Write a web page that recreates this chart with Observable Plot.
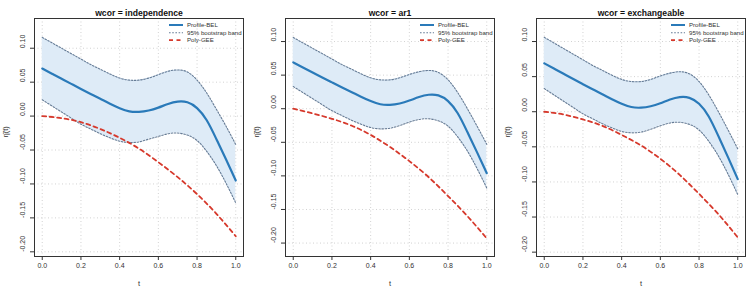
<!DOCTYPE html>
<html><head><meta charset="utf-8">
<script src="https://cdn.jsdelivr.net/npm/d3@7"></script>
<script src="https://cdn.jsdelivr.net/npm/@observablehq/plot@0.6"></script>
<style>
body{margin:0;background:#fff;font-family:"Liberation Sans",Arial,sans-serif;}
#wrap{display:flex;width:753px;height:289px;}
svg{display:block;}
</style></head><body><div id="wrap"></div>
<script>
const titles = ["wcor = independence", "wcor = ar1", "wcor = exchangeable"];
const t21 = [0,0.05,0.1,0.15,0.2,0.25,0.3,0.35,0.4,0.45,0.5,0.55,0.6,0.65,0.7,0.75,0.8,0.85,0.9,0.95,1.0];
const t11 = [0,0.1,0.2,0.3,0.4,0.5,0.6,0.7,0.8,0.9,1.0];
const xTicks = [0,0.2,0.4,0.6,0.8,1.0];
const yTicks = [-0.2,-0.15,-0.1,-0.05,0,0.05,0.1];

// Profile-BEL estimates
const bel1 = [0.0700,0.0625,0.0550,0.0475,0.0400,0.0327,0.0255,0.0182,0.0117,0.0070,0.0062,0.0082,0.0125,0.0178,0.0213,0.0203,0.0118,-0.0062,-0.0340,-0.0640,-0.0950];
const bel2 = [0.0690,0.0615,0.0540,0.0465,0.0392,0.0320,0.0250,0.0178,0.0114,0.0067,0.0058,0.0078,0.0121,0.0174,0.0208,0.0198,0.0113,-0.0068,-0.0348,-0.0650,-0.0960];
const bel3 = [0.0690,0.0615,0.0540,0.0465,0.0392,0.0320,0.0250,0.0178,0.0114,0.0067,0.0058,0.0078,0.0121,0.0174,0.0208,0.0198,0.0113,-0.0068,-0.0348,-0.0650,-0.0960];
// 95% bootstrap band
const upper1 = [0.116,0.108,0.100,0.092,0.084,0.076,0.069,0.062,0.056,0.053,0.053,0.056,0.061,0.066,0.068,0.065,0.053,0.034,0.010,-0.015,-0.042];
const lower1 = [0.024,0.015,0.006,-0.003,-0.012,-0.019,-0.026,-0.032,-0.037,-0.039,-0.038,-0.034,-0.030,-0.026,-0.025,-0.028,-0.036,-0.052,-0.073,-0.099,-0.128];
const upper2 = [0.106,0.098,0.090,0.082,0.074,0.066,0.059,0.052,0.046,0.043,0.043,0.046,0.051,0.055,0.057,0.054,0.043,0.024,0.000,-0.026,-0.053];
const lower2 = [0.033,0.024,0.015,0.006,-0.003,-0.010,-0.017,-0.023,-0.028,-0.030,-0.029,-0.025,-0.020,-0.016,-0.015,-0.018,-0.026,-0.042,-0.063,-0.089,-0.118];
const upper3 = [0.106,0.098,0.090,0.082,0.074,0.066,0.059,0.052,0.046,0.043,0.043,0.046,0.051,0.055,0.057,0.054,0.043,0.024,0.000,-0.026,-0.053];
const lower3 = [0.033,0.024,0.015,0.006,-0.003,-0.010,-0.017,-0.023,-0.028,-0.030,-0.029,-0.025,-0.020,-0.016,-0.015,-0.018,-0.026,-0.042,-0.063,-0.089,-0.118];
// Poly-GEE
const gee1 = [0,-0.003,-0.009,-0.019,-0.032,-0.048,-0.068,-0.090,-0.115,-0.144,-0.177];
const gee2 = [0,-0.007,-0.015,-0.025,-0.039,-0.057,-0.078,-0.102,-0.130,-0.160,-0.193];
const gee3 = [0,-0.004,-0.011,-0.020,-0.033,-0.048,-0.067,-0.090,-0.117,-0.146,-0.179];

const yDomains = [[-0.2069,0.1438],[-0.22,0.1343],[-0.2062,0.1328]];
const legendLabels = ["Profile-BEL","95% bootstrap band","Poly-GEE"];

const panels = [
  {bel:bel1, up:upper1, lo:lower1, gee:gee1},
  {bel:bel2, up:upper2, lo:lower2, gee:gee2},
  {bel:bel3, up:upper3, lo:lower3, gee:gee3}
];

const BLUE = "#2a7ab9", BAND = "#deebf7", BANDLINE = "#667c96", RED = "#d6392c", AX = "#333";
const FONT = "'Liberation Sans', Arial, sans-serif";
const fmtY = d => d3.format(".2f")(d).replace("−","-");
const fmtX = d => d3.format(".1f")(d);

panels.forEach((p, i) => {
  const band = t21.map((t, k) => ({t, up: p.up[k], lo: p.lo[k], bel: p.bel[k]}));
  const gee = t11.map((t, k) => ({t, v: p.gee[k]}));
  const plot = Plot.plot({
    width: 251, height: 289,
    marginLeft: 34, marginRight: 8, marginTop: 18, marginBottom: 33,
    style: {fontFamily: FONT, background: "#fff", color: "#333"},
    x: {domain: [-0.04, 1.04]},
    y: {domain: yDomains[i]},
    marks: [
      Plot.gridX(xTicks, {stroke: "#d2d2d2", strokeOpacity: 1, strokeDasharray: "1,2.5"}),
      Plot.gridY(yTicks, {stroke: "#d2d2d2", strokeOpacity: 1, strokeDasharray: "1,2.5"}),
      Plot.areaY(band, {x: "t", y1: "lo", y2: "up", fill: BAND, curve: "natural"}),
      Plot.line(band, {x: "t", y: "up", stroke: BANDLINE, strokeWidth: 1.1, strokeDasharray: "1.6,1.6", curve: "natural"}),
      Plot.line(band, {x: "t", y: "lo", stroke: BANDLINE, strokeWidth: 1.1, strokeDasharray: "1.6,1.6", curve: "natural"}),
      Plot.line(band, {x: "t", y: "bel", stroke: BLUE, strokeWidth: 2.2, curve: "natural"}),
      Plot.line(gee, {x: "t", y: "v", stroke: RED, strokeWidth: 1.8, strokeDasharray: "4,3.5", curve: "natural"}),
      Plot.frame({stroke: AX, strokeWidth: 1}),
      Plot.axisX({ticks: xTicks, tickSize: 4, tickPadding: 3, tickFormat: fmtX, fontSize: 7, stroke: AX, fill: "#333", label: null}),
      Plot.axisY({ticks: yTicks, tickSize: 4, tickFormat: () => "", label: null, stroke: AX}),
      Plot.text(yTicks, {y: d => d, text: d => fmtY(d), frameAnchor: "left", dx: -12, rotate: -90, fontSize: 7, fill: "#333"}),
      Plot.text([titles[i]], {frameAnchor: "top", dy: -9, fontWeight: "bold", fontSize: 8.6, fill: "#111"}),
      Plot.text(["t"], {frameAnchor: "bottom", dy: 29, fontSize: 7.5, fill: "#333"}),
      Plot.text(["η̂(t)"], {frameAnchor: "left", dx: -29, rotate: -90, fontSize: 7.5, fill: "#333"})
    ]
  });
  // legend (top-right inside the frame)
  const svg = d3.select(plot);
  const lx = 169, ly = [25, 32.7, 40.2];
  const styles = [
    {stroke: BLUE, w: 2, dash: null},
    {stroke: BANDLINE, w: 1.1, dash: "1.6,1.6"},
    {stroke: RED, w: 1.8, dash: "4,3.5"}
  ];
  const g = svg.append("g");
  legendLabels.forEach((lab, k) => {
    const s = styles[k];
    const ln = g.append("line").attr("x1", lx).attr("x2", lx + 14).attr("y1", ly[k]).attr("y2", ly[k])
      .attr("stroke", s.stroke).attr("stroke-width", s.w);
    if (s.dash) ln.attr("stroke-dasharray", s.dash);
    g.append("text").attr("x", lx + 18).attr("y", ly[k]).attr("dy", "0.35em")
      .style("text-anchor", "start")
      .style("font-size", "6.1px").style("font-family", FONT).style("fill", "#333").text(lab);
  });
  document.getElementById("wrap").appendChild(plot);
});
</script></body></html>
